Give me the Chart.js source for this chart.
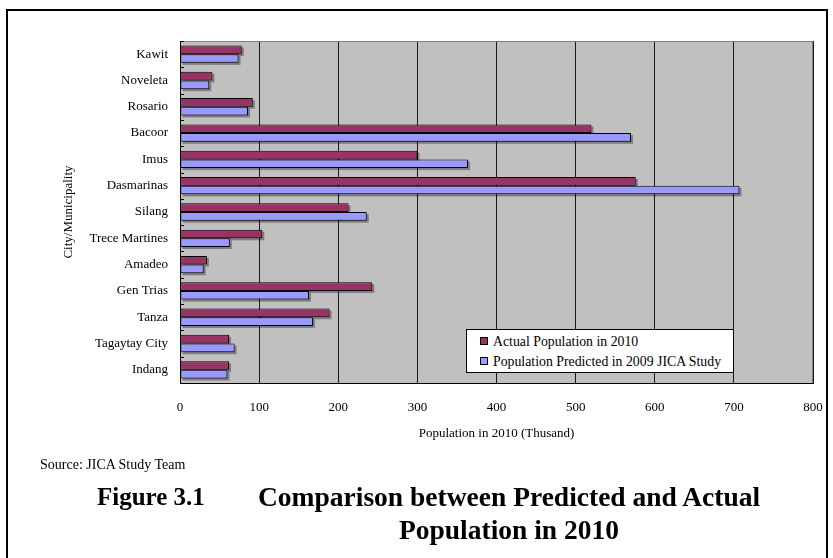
<!DOCTYPE html>
<html>
<head>
<meta charset="utf-8">
<script src="https://cdn.jsdelivr.net/npm/chart.js@4/dist/chart.umd.min.js"></script>
<style>
  html, body { margin: 0; padding: 0; background: #fff; }
  #wrap { position: relative; width: 833px; height: 558px; overflow: hidden; }
  #frame { position: absolute; left: 6px; top: 9px; width: 818px; height: 600px; border: 2px solid #000; }
  #chart { position: absolute; left: 0; top: 0; }
  .cap { position: absolute; font-family: "Liberation Serif", "Times New Roman", serif; color: #000; white-space: nowrap; }
  #legend { position: absolute; left: 466px; top: 329px; width: 266px; height: 42px; background: #fff; border: 1px solid #000;
            font-family: "Liberation Serif", "Times New Roman", serif; font-size: 13.8px; color: #000; }
  #legend .item { position: absolute; left: 13px; height: 16px; line-height: 16px; }
  #legend .sw { display: inline-block; width: 6px; height: 6px; border: 1px solid #000; margin-right: 5px; vertical-align: 1px; }
</style>
</head>
<body>
<div id="wrap">
  <div id="frame"></div>
  <canvas id="chart" width="833" height="558"></canvas>
  <div id="legend"></div>
  <div class="cap" style="left:40px; top:456px; font-size:14px; line-height:18px;">Source: JICA Study Team</div>
  <div class="cap" style="left:97px; top:482px; font-size:25px; line-height:30px; font-weight:bold;">Figure 3.1</div>
  <div class="cap" style="left:258px; top:482px; font-size:27.5px; line-height:30px; font-weight:bold;">Comparison between Predicted and Actual</div>
  <div class="cap" style="left:258px; width:502px; text-align:center; top:515px; font-size:27.5px; line-height:30px; font-weight:bold;">Population in 2010</div>
</div>
<script>
// Population by city/municipality, in thousands
const cities = ['Kawit', 'Noveleta', 'Rosario', 'Bacoor', 'Imus', 'Dasmarinas', 'Silang',
                'Trece Martines', 'Amadeo', 'Gen Trias', 'Tanza', 'Tagaytay City', 'Indang'];
const actual2010 = [78, 41, 92, 520, 300, 576, 213, 104, 34, 243, 189, 62, 62];
const predicted2009 = [74, 37, 86, 570, 364, 707, 236, 63, 30, 163, 168, 69, 60];
const xTickValues = [0, 100, 200, 300, 400, 500, 600, 700, 800];

const seriesNames = ['Actual Population in 2010', 'Population Predicted in 2009 JICA Study'];
const seriesColors = ['#993366', '#9999ff'];

const SERIF = '"Liberation Serif", "Times New Roman", serif';

// Plot background, outline, and the short inward ticks between categories
const plotFrame = {
  id: 'plotFrame',
  beforeDraw(chart) {
    const { ctx, chartArea: a } = chart;
    ctx.save();
    ctx.fillStyle = '#c0c0c0';
    ctx.fillRect(a.left, a.top, a.right - a.left, a.bottom - a.top);
    ctx.restore();
  },
  afterDraw(chart) {
    const { ctx, chartArea: a } = chart;
    const y = chart.scales.y;
    ctx.save();
    ctx.strokeStyle = '#808080';
    ctx.lineWidth = 1;
    ctx.beginPath();
    ctx.moveTo(a.left, a.top + 0.5);
    ctx.lineTo(a.right - 0.5, a.top + 0.5);
    ctx.lineTo(a.right - 0.5, a.bottom);
    ctx.stroke();
    ctx.strokeStyle = '#000';
    ctx.beginPath();
    for (let i = 0; i <= cities.length; i++) {
      const py = Math.round(y.getPixelForValue(i - 0.5)) + 0.5;
      ctx.moveTo(a.left, py);
      ctx.lineTo(a.left + 4, py);
    }
    ctx.stroke();
    ctx.restore();
  }
};

// Soft drop shadow behind each bar
const barShadow = {
  id: 'barShadow',
  beforeDatasetsDraw(chart) {
    const { ctx } = chart;
    ctx.save();
    ctx.fillStyle = 'rgba(0,0,0,0.35)';
    chart.data.datasets.forEach((ds, di) => {
      chart.getDatasetMeta(di).data.forEach(bar => {
        const p = bar.getProps(['x', 'y', 'base', 'height'], true);
        const l = Math.min(p.base, p.x), r = Math.max(p.base, p.x);
        ctx.fillRect(l + 2, p.y - p.height / 2 + 2, r - l, p.height);
      });
    });
    ctx.restore();
  }
};

const chart = new Chart(document.getElementById('chart'), {
  type: 'bar',
  data: {
    labels: cities,
    datasets: [
      { label: seriesNames[0], data: actual2010, backgroundColor: seriesColors[0], borderColor: '#000', borderWidth: 1, borderSkipped: false },
      { label: seriesNames[1], data: predicted2009, backgroundColor: seriesColors[1], borderColor: '#000', borderWidth: 1, borderSkipped: false }
    ]
  },
  options: {
    indexAxis: 'y',
    responsive: false,
    animation: false,
    devicePixelRatio: 1,
    layout: { padding: { left: 0, right: 20, top: 41, bottom: 105 } },
    datasets: { bar: { categoryPercentage: 0.66, barPercentage: 1.0 } },
    plugins: { legend: { display: false }, tooltip: { enabled: false } },
    scales: {
      x: {
        min: 0, max: 800,
        afterBuildTicks: s => { s.ticks = xTickValues.map(v => ({ value: v })); },
        afterFit: s => { s.height = 70; s.paddingLeft = 0; s.paddingRight = 0; },
        grid: { color: '#1a1a1a', lineWidth: 1, drawTicks: false },
        border: { color: '#000', width: 1 },
        ticks: { color: '#000', padding: 17, font: { family: SERIF, size: 13 } },
        title: { display: true, text: 'Population in 2010 (Thusand)', color: '#000',
                 font: { family: SERIF, size: 13 }, padding: { top: 0, bottom: 12 } }
      },
      y: {
        afterFit: s => { s.width = 180; },
        grid: { display: false, drawTicks: false },
        border: { color: '#000', width: 1 },
        ticks: { color: '#000', padding: 12, font: { family: SERIF, size: 13 } },
        title: { display: true, text: 'City/Municipality', color: '#000',
                 font: { family: SERIF, size: 13 }, padding: { top: 61, bottom: 0 } }
      }
    }
  },
  plugins: [plotFrame, barShadow]
});

// Legend box built from the chart's datasets
const legendEl = document.getElementById('legend');
chart.data.datasets.forEach((ds, i) => {
  const item = document.createElement('div');
  item.className = 'item';
  item.style.top = (4 + i * 20) + 'px';
  const sw = document.createElement('span');
  sw.className = 'sw';
  sw.style.background = ds.backgroundColor;
  item.appendChild(sw);
  item.appendChild(document.createTextNode(ds.label));
  legendEl.appendChild(item);
});
</script>
</body>
</html>
